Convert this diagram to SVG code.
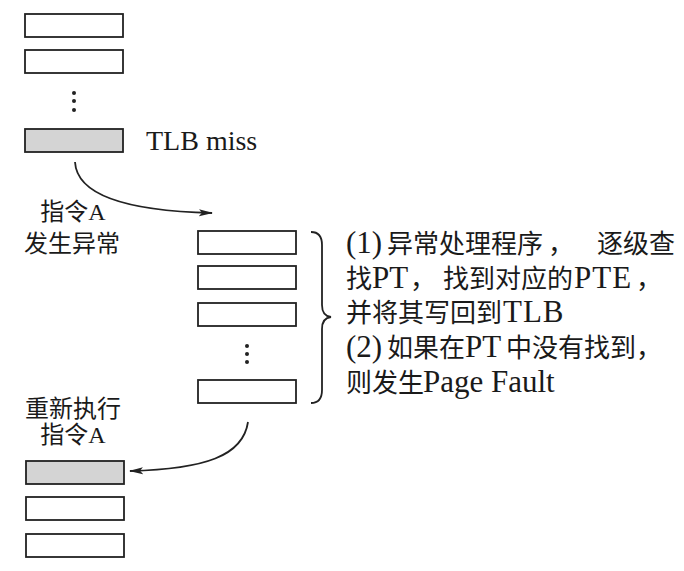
<svg xmlns="http://www.w3.org/2000/svg" width="684" height="571" viewBox="0 0 684 571">
<style>
.box{fill:#fff;stroke:#222;stroke-width:1.8}
.hit{fill:#d4d4d4;stroke:#222;stroke-width:1.8}
.dot{fill:#222}
.t{font-family:"Liberation Serif","Noto Sans CJK SC",serif;font-size:26px;fill:#1a1a1a}
.l{font-size:31px}
.c{font-family:"Liberation Serif","Noto Sans CJK SC",serif;font-size:24px;fill:#1a1a1a;text-anchor:middle}
.conn{fill:none;stroke:#222;stroke-width:1.8}
</style>
<defs>
<marker id="ah" markerWidth="14" markerHeight="8" refX="13" refY="4" orient="auto" markerUnits="userSpaceOnUse">
<path d="M0,0.5 L14,4 L0,7.5 L3,4 Z" fill="#222"/>
</marker>
</defs>
<rect width="684" height="571" fill="#fff"/>
<g id="left-top">
<rect class="box" x="25" y="14" width="98" height="23"/>
<rect class="box" x="25" y="50" width="98" height="23"/>
<circle class="dot" cx="74" cy="93" r="2"/>
<circle class="dot" cx="74" cy="101" r="2"/>
<circle class="dot" cx="74" cy="110" r="2"/>
<rect class="hit" x="25" y="129" width="98" height="23"/>
<text class="t" x="146" y="150" style="font-size:28px">TLB miss</text>
</g>
<g id="label-exception">
<text class="c" x="73" y="220">指令A</text>
<text class="c" x="72" y="252">发生异常</text>
</g>
<g id="handler">
<rect class="box" x="198" y="231" width="98" height="23"/>
<rect class="box" x="198" y="266" width="98" height="23"/>
<rect class="box" x="198" y="303" width="98" height="23"/>
<circle class="dot" cx="247" cy="346" r="2"/>
<circle class="dot" cx="247" cy="354" r="2"/>
<circle class="dot" cx="247" cy="362" r="2"/>
<rect class="box" x="198" y="380" width="98" height="23"/>
<path class="conn" d="M311,232 Q322,232 322,245 L322,305 Q322,316 331,317 Q322,318 322,329 L322,390 Q322,403 311,403"/>
</g>
<g id="description">
<text class="t" y="253"><tspan class="l" x="346">(1) </tspan><tspan x="387">异常处理程序</tspan><tspan x="548">，</tspan><tspan x="597">逐级查</tspan></text>
<text class="t" y="288"><tspan x="346">找</tspan><tspan class="l" x="372">PT</tspan><tspan x="410">，</tspan><tspan x="443">找到对应的</tspan><tspan class="l" x="574" letter-spacing="1">PTE</tspan><tspan x="636">，</tspan></text>
<text class="t" y="322"><tspan x="346">并将其写回到</tspan><tspan class="l" x="503" letter-spacing="1">TLB</tspan></text>
<text class="t" y="357"><tspan class="l" x="346">(2) </tspan><tspan x="387">如果在</tspan><tspan class="l" x="465">PT</tspan><tspan x="506">中没有找到</tspan><tspan x="636">，</tspan></text>
<text class="t" y="392"><tspan x="346">则发生</tspan><tspan class="l" x="423">Page Fault</tspan></text>
</g>
<g id="label-rerun">
<text class="c" x="73" y="417">重新执行</text>
<text class="c" x="73" y="443">指令A</text>
</g>
<g id="left-bottom">
<rect class="hit" x="26" y="461" width="98" height="23"/>
<rect class="box" x="26" y="497" width="98" height="23"/>
<rect class="box" x="26" y="534" width="98" height="23"/>
</g>
<g id="connectors">
<path class="conn" d="M75,162 C77,196 130,211 212,213" marker-end="url(#ah)"/>
<path class="conn" d="M248,422 C243,456 205,469 130,471" marker-end="url(#ah)"/>
</g>
</svg>
